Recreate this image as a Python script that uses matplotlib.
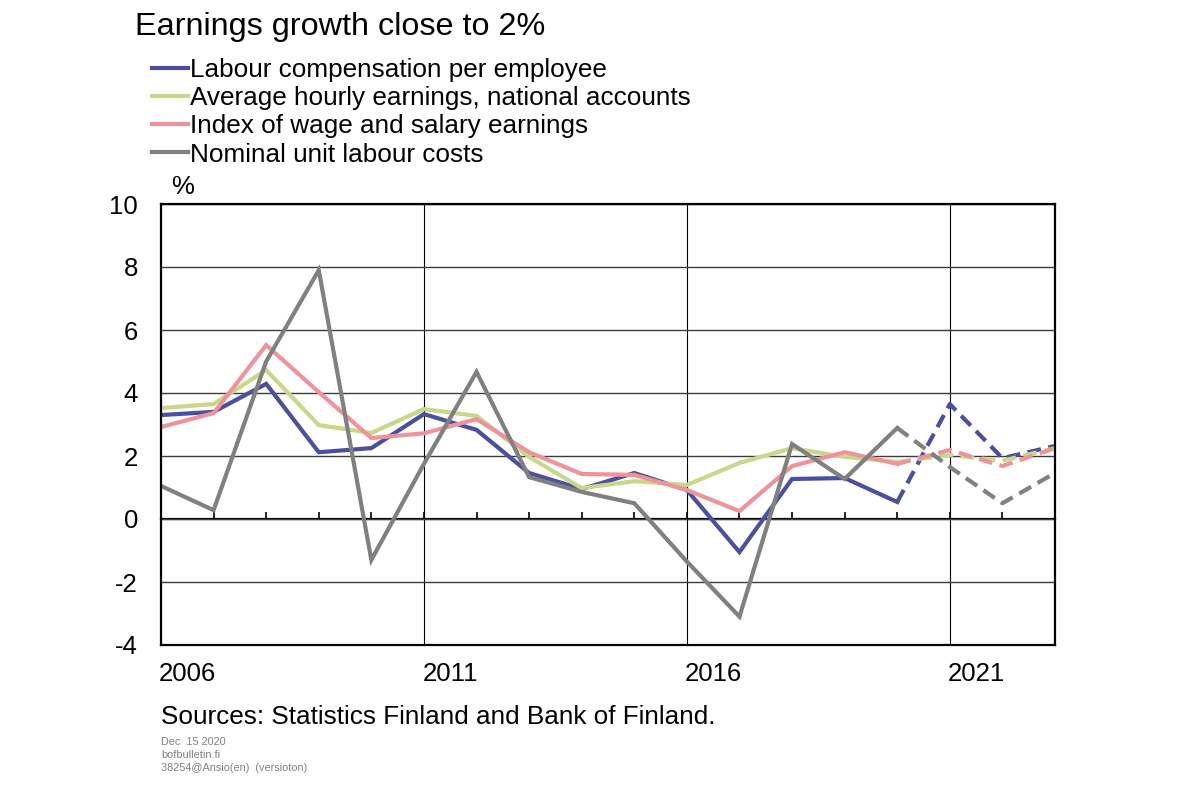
import numpy as np
import matplotlib.pyplot as plt

plt.rcParams['font.family'] = ['Liberation Sans', 'DejaVu Sans']
plt.rcParams['axes.unicode_minus'] = False

# %%
years = np.arange(2006, 2024)
last_actual = 2020
label_years = np.array([2006, 2011, 2016, 2021])

labour_comp = [3.30, 3.40, 4.29, 2.12, 2.25, 3.33, 2.83, 1.46, 0.95, 1.46, 0.92, -1.05,
               1.27, 1.30, 0.54, 3.65, 1.93, 2.32]
hourly_earn = [3.52, 3.65, 4.73, 2.98, 2.73, 3.49, 3.27, 1.97, 0.98, 1.20, 1.08, 1.78,
               2.25, 1.97, 1.81, 2.03, 1.85, 2.25]
wage_index = [2.92, 3.36, 5.52, 4.03, 2.57, 2.72, 3.17, 2.12, 1.43, 1.40, 0.92, 0.25,
              1.68, 2.12, 1.75, 2.19, 1.68, 2.25]
unit_labour = [1.05, 0.28, 5.00, 7.90, -1.30, 1.75, 4.67, 1.33, 0.86, 0.50, -1.35, -3.10,
               2.38, 1.27, 2.89, 1.65, 0.50, 1.46]

names = ['Labour compensation per employee', 'Average hourly earnings, national accounts',
         'Index of wage and salary earnings', 'Nominal unit labour costs']
colors = ['#4a4f9f', '#c8d88a', '#f0929a', '#808080']
series = [labour_comp, hourly_earn, wage_index, unit_labour]

# %%
W, H = 1202, 785
fig = plt.figure(figsize=(W / 100, H / 100), dpi=100)
ax = fig.add_axes([161 / W, 1 - 645 / H, (1055 - 161) / W, (645 - 204) / H])

handles = []
for vals, col, name in zip(series, colors, names):
    vals = np.array(vals)
    act = years <= last_actual
    fc = years >= last_actual
    ln, = ax.plot(years[act], vals[act], color=col, lw=3.0, solid_joinstyle='miter',
                  label=name)
    ax.plot(years[fc], vals[fc], color=col, lw=3.0, dashes=(3.3, 1.8), dash_capstyle='butt')
    handles.append(ln)

ax.set_xlim(2006, 2023)
ax.set_ylim(-4, 10)
ax.set_yticks(np.arange(-4, 11, 2))
ax.tick_params(axis='y', length=0, pad=16.5, labelsize=18.5)

ax.set_xticks([2011, 2016, 2021])
ax.set_xticklabels([])
ax.set_xticks(label_years + 0.5, minor=True)
ax.set_xticklabels([str(y) for y in label_years], minor=True)
ax.tick_params(axis='x', which='both', length=0, pad=12, labelsize=18.5)

ax.grid(axis='y', color='#3c3c3c', lw=1.0)
ax.grid(axis='x', which='major', color='black', lw=0.8)
for sp in ax.spines.values():
    sp.set_linewidth(1.6)

# zero line with small year ticks
sec = ax.secondary_xaxis(4 / 14)
sec.spines['bottom'].set_linewidth(1.6)
sec.set_xticks(years[1:-1])
sec.set_xticklabels([])
sec.tick_params(direction='in', length=5, width=1.2, color='black')

# %%
fig.text(135 / W, 1 - 27 / H, 'Earnings growth close to 2%', fontsize=23.3, va='center')
fig.legend(handles=handles, loc='upper left', bbox_to_anchor=(152 / W, 1 - 58 / H),
           frameon=False, fontsize=18.8, handlelength=1.38, handletextpad=0.08,
           labelspacing=0.16, borderpad=0, borderaxespad=0)
fig.text(183 / W, 1 - 187 / H, '%', fontsize=18.5, ha='center', va='center')
fig.text(161 / W, 1 - 717 / H, 'Sources: Statistics Finland and Bank of Finland.',
         fontsize=18.8, va='center')
for i, t in enumerate(['Dec  15 2020', 'bofbulletin.fi', '38254@Ansio(en)  (versioton)']):
    fig.text(161 / W, 1 - (742 + 13 * i) / H, t, fontsize=7.8, color='#808080', va='center')

fig.savefig('out.png', dpi=100)
